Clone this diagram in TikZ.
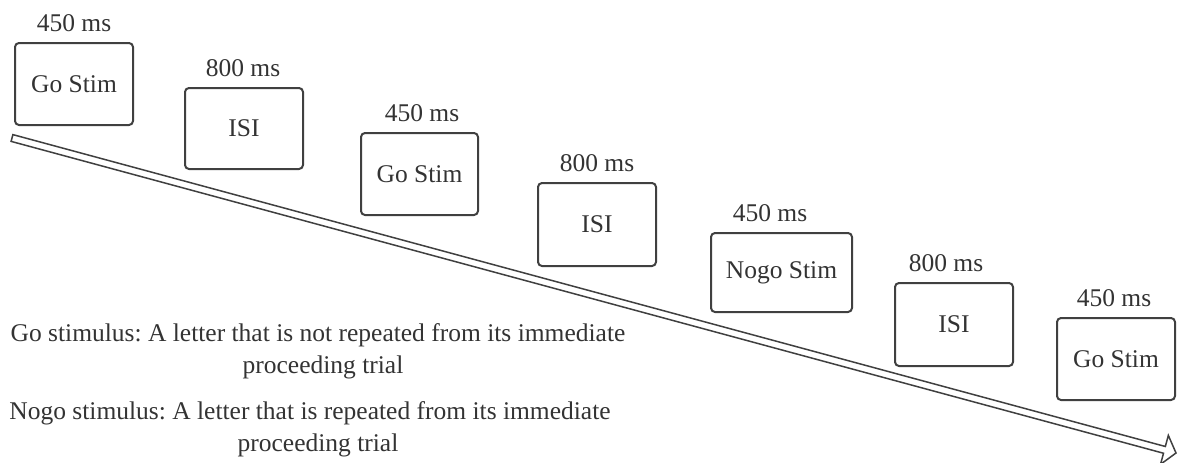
\documentclass[tikz,border=0pt]{standalone}
\usepackage{fontspec}
\setmainfont{Liberation Serif}
\usetikzlibrary{calc}
\definecolor{ink}{HTML}{333333}
\definecolor{edge}{HTML}{404040}
\frenchspacing
\tikzset{
  stimbox/.style={draw=edge, line width=2pt, rounded corners=4pt, inner sep=0pt,
    minimum width=118pt, minimum height=82pt, text=ink,
    font=\rmfamily\fontsize{25.5}{30}\selectfont},
  durlabel/.style={anchor=base, inner sep=0pt, text=ink, font=\rmfamily\fontsize{25.5}{30}\selectfont},
  timeline/.style={draw=edge, fill=white, line width=1.5pt, line join=miter, miter limit=20}
}
\begin{document}
\begin{tikzpicture}[x=1pt,y=-1pt]
\useasboundingbox (0,0) rectangle (1178,463);
% timeline arrow (hollow block arrow)
\coordinate (t0) at (12,138);
\coordinate (t1) at (1176,453);
\coordinate (hb) at ($(t1)!12pt!(t0)$);
\coordinate (s1) at ($(t0)!3.5pt!90:(t1)$);
\coordinate (s2) at ($(t0)!3.5pt!-90:(t1)$);
\coordinate (h1) at ($(hb)!3.5pt!-90:(t1)$);
\coordinate (h2) at ($(hb)!3.5pt!90:(t1)$);
\coordinate (w1) at ($(hb)!15pt!-90:(t1)$);
\coordinate (w2) at ($(hb)!15pt!90:(t1)$);
\draw[timeline] (s1) -- (h2) -- (w2) -- (t1) -- (w1) -- (h1) -- (s2) -- cycle;
% boxes
\node[stimbox] (b1) at (74,84) {Go Stim};
\node[stimbox, minimum height=81pt] (b2) at (244,128.5) {ISI};
\node[stimbox, minimum width=117pt] (b3) at (419.5,174) {Go Stim};
\node[stimbox, minimum height=83pt] (b4) at (597,224.5) {ISI};
\node[stimbox, minimum width=141pt, minimum height=79pt] (b5) at (781.5,272.5) {Nogo Stim};
\node[stimbox, minimum height=83pt] (b6) at (954,324.5) {ISI};
\node[stimbox] (b7) at (1116,359) {Go Stim};
% duration labels
\node[durlabel] (l1) at (74,31) {450 ms};
\node[durlabel] (l2) at (243,76) {800 ms};
\node[durlabel] (l3) at (422,121) {450 ms};
\node[durlabel] (l4) at (597,171) {800 ms};
\node[durlabel] (l5) at (770,221) {450 ms};
\node[durlabel] (l6) at (946,271) {800 ms};
\node[durlabel] (l7) at (1114,306) {450 ms};
% notes
\node[durlabel] (n1a) at (318,341) {Go stimulus: A letter that is not repeated from its immediate};
\node[durlabel] (n1b) at (323,373) {proceeding trial};
\node[durlabel] (n2a) at (310,419) {Nogo stimulus: A letter that is repeated from its immediate};
\node[durlabel] (n2b) at (318,451) {proceeding trial};
\end{tikzpicture}
\end{document}
